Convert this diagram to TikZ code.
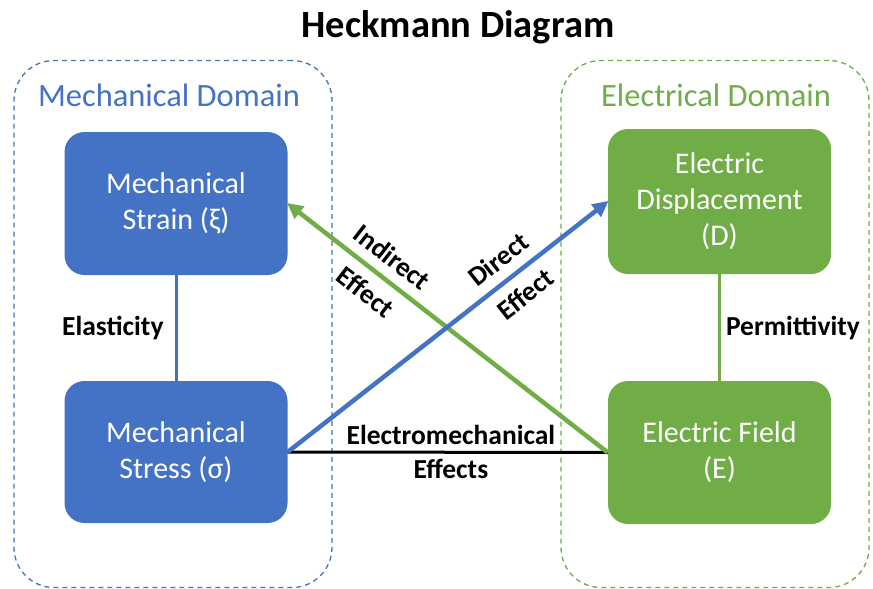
\documentclass[tikz,border=0pt]{standalone}
\usepackage{fontspec}
\setmainfont{Carlito}
\usetikzlibrary{arrows.meta}
\definecolor{mblue}{HTML}{4472C4}
\definecolor{egreen}{HTML}{70AD47}
\begin{document}
\begin{tikzpicture}[x=1pt,y=-1pt,
  domainbox/.style={draw, dashed, dash pattern=on 5pt off 4pt, line width=1.3pt, rounded corners=40pt, inner sep=0pt},
  domainlabel/.style={font=\fontsize{32.5}{36}\selectfont, inner sep=0pt},
  quantity/.style={rounded corners=20pt, inner sep=0pt, align=center, text=white, minimum width=223pt, font=\fontsize{30}{36}\selectfont},
  link/.style={line width=3pt},
  effarrow/.style={line width=4.5pt, -{Triangle[length=16pt,width=15pt]}, shorten >=-1pt},
  lbl/.style={font=\bfseries\fontsize{27.5}{31}\selectfont, inner sep=0pt, text=black}]
\useasboundingbox (0,0) rectangle (873,589);
\node[font=\bfseries\fontsize{38.5}{42}\selectfont] (title) at (458,27) {Heckmann Diagram};
% domains
\node[domainbox, draw=mblue, minimum width=318pt, minimum height=527pt] (mdom) at (173,324) {};
\node[domainbox, draw=egreen, minimum width=308pt, minimum height=527pt] (edom) at (715,324) {};
\node[domainlabel, text=mblue] (mlab) at (169,95) {Mechanical Domain};
\node[domainlabel, text=egreen] (elab) at (716,95) {Electrical Domain};
% quantities
\node[quantity, fill=mblue, minimum height=143pt] (strain) at (176,203.5) {Mechanical\\Strain (ξ)};
\node[quantity, fill=mblue, minimum height=142pt] (stress) at (176,452) {Mechanical\\Stress (σ)};
\node[quantity, fill=egreen, minimum height=145pt] (disp) at (719.5,201.5) {Electric\\Displacement\\(D)};
\node[quantity, fill=egreen, minimum height=143pt] (field) at (719.5,452.5) {Electric Field\\(E)};
% links
\draw[link, mblue] (strain) -- node[lbl, midway, left=11pt] (elas) {Elasticity} (stress);
\draw[link, egreen] (disp) -- node[lbl, midway, right=5pt] (perm) {Permittivity} (field);
\draw[link, black] (stress.east) -- node[lbl, pos=0.51, above=6pt] (em1) {Electromechanical}
  node[lbl, pos=0.51, below=5pt] (em2) {Effects} (field.west);
% effects
\draw[effarrow, egreen] (field.west) -- node[lbl, pos=0.715, sloped, above=10pt] (ind1) {Indirect}
  node[lbl, pos=0.715, sloped, below=10pt] (ind2) {Effect} (strain.east);
\draw[effarrow, mblue] (stress.east) -- node[lbl, pos=0.70, sloped, above=10pt] (dir1) {Direct}
  node[lbl, pos=0.70, sloped, below=10pt] (dir2) {Effect} (disp.west);
\end{tikzpicture}
\end{document}
